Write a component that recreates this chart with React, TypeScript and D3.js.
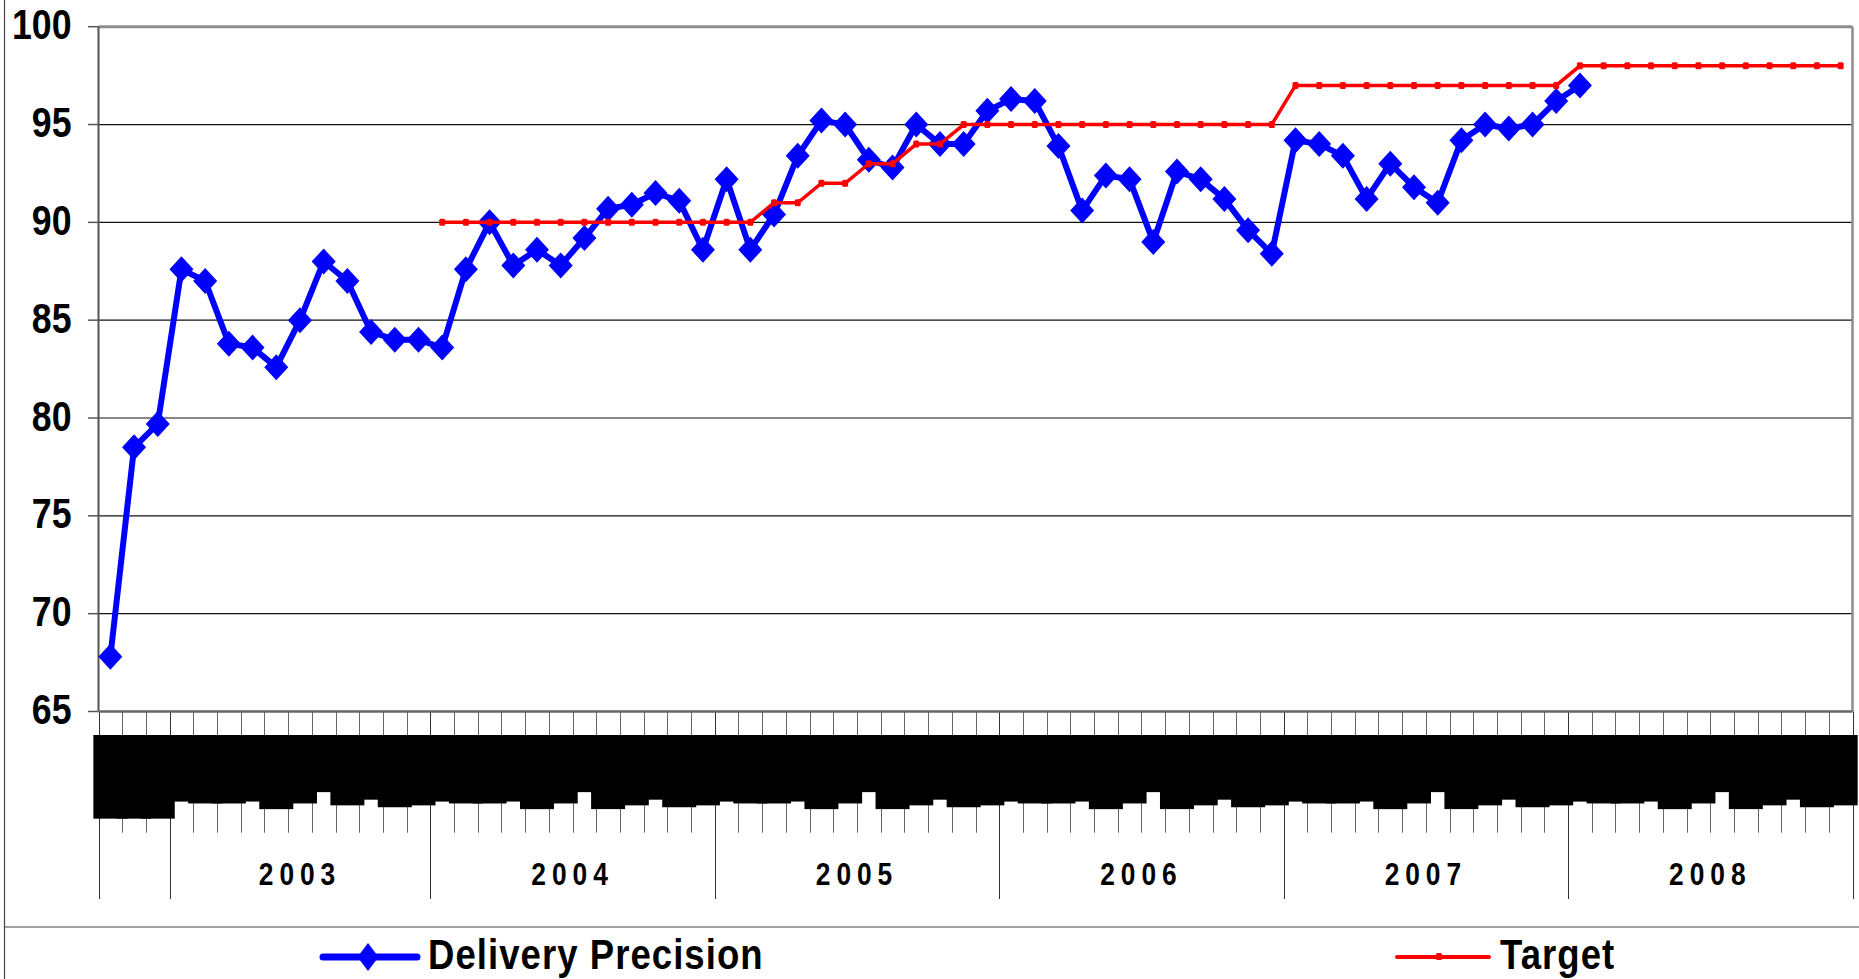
import { useRef, useEffect } from 'react';
import * as d3 from 'd3';

const WIDTH = 1859;
const HEIGHT = 979;
const FONT = "'Liberation Sans', Arial, sans-serif";

// category axis: yearly results first (group has no caption), then months per year
const earlyLabels = ['2000', '2001', '2002'];
const months2003 = ['Jan', 'Feb', 'Mar', 'Apr', 'May', 'Jun', 'Jul', 'Sep', 'Oct', 'Nov', 'Dec'];
const monthLabels = ['Jan', 'Feb', 'Mar', 'Apr', 'May', 'Jun', 'Jul', 'Aug', 'Sep', 'Oct', 'Nov', 'Dec'];
const yearCaptions = ['', '2003', '2004', '2005', '2006', '2007', '2008'];

const deliveryPrecision = [
  67.8, 78.5, 79.7,
  87.6, 87.0, 83.8, 83.6, 82.6, 85.0, 88.0, 87.0, 84.4, 84.0, 84.0,
  83.6, 87.6, 90.0, 87.8, 88.6, 87.8, 89.2, 90.7, 90.9, 91.5, 91.1, 88.6,
  92.2, 88.6, 90.4, 93.4, 95.2, 95.0, 93.2, 92.8, 95.0, 94.0, 94.0, 95.7,
  96.3, 96.2, 93.9, 90.6, 92.4, 92.2, 89.0, 92.6, 92.2, 91.2, 89.6, 88.4,
  94.2, 94.0, 93.4, 91.2, 93.0, 91.8, 91.0, 94.2, 95.0, 94.8, 95.0, 96.2,
  97.0,
];

const target: (number | null)[] = [
  null, null, null,
  null, null, null, null, null, null, null, null, null, null, null,
  90, 90, 90, 90, 90, 90, 90, 90, 90, 90, 90, 90,
  90, 90, 91, 91, 92, 92, 93, 93, 94, 94, 95, 95,
  95, 95, 95, 95, 95, 95, 95, 95, 95, 95, 95, 95,
  97, 97, 97, 97, 97, 97, 97, 97, 97, 97, 97, 97,
  98, 98, 98, 98, 98, 98, 98, 98, 98, 98, 98, 98,
];

const yTicks = [65, 70, 75, 80, 85, 90, 95, 100];

export default function App() {
  const svgRef = useRef<SVGSVGElement>(null);

  function renderChart() {
    const svg = d3.select(svgRef.current);
    svg.selectAll('*').remove();

    const left = 98.5;
    const right = 1852.5;
    const top = 26.7;
    const bottom = 711.5;

    const groups = [earlyLabels, months2003, monthLabels, monthLabels, monthLabels, monthLabels, monthLabels];
    const categories = groups.flatMap((labels, g) => labels.map(label => ({ label, group: g })));

    const x = d3.scaleBand<number>().domain(d3.range(categories.length)).range([left, right]);
    const bw = x.bandwidth();
    const cx = (i: number) => (x(i) as number) + bw / 2;
    const y = d3.scaleLinear().domain([65, 100]).range([bottom, top]);

    svg.append('rect').attr('width', WIDTH).attr('height', HEIGHT).attr('fill', '#fff');

    // outer frame bits
    svg.append('line').attr('x1', 4.5).attr('x2', 4.5).attr('y1', 0).attr('y2', HEIGHT)
      .attr('stroke', '#444').attr('stroke-width', 1.2);
    svg.append('line').attr('x1', 4).attr('x2', WIDTH).attr('y1', 927).attr('y2', 927)
      .attr('stroke', '#444').attr('stroke-width', 1.2);

    // gridlines
    svg.append('g').selectAll('line')
      .data(yTicks.filter(t => t > 65 && t < 100))
      .join('line')
      .attr('x1', left).attr('x2', right)
      .attr('y1', d => y(d)).attr('y2', d => y(d))
      .attr('stroke', '#111').attr('stroke-width', 1.2);

    // plot border top / right
    svg.append('line').attr('x1', left).attr('x2', right).attr('y1', y(100)).attr('y2', y(100))
      .attr('stroke', '#8c8c8c').attr('stroke-width', 3);
    svg.append('line').attr('x1', right).attr('x2', right).attr('y1', y(100)).attr('y2', bottom)
      .attr('stroke', '#8c8c8c').attr('stroke-width', 2.5);

    // y axis
    svg.append('line').attr('x1', left).attr('x2', left).attr('y1', y(100)).attr('y2', bottom)
      .attr('stroke', '#555').attr('stroke-width', 2);
    svg.append('g').selectAll('line')
      .data(yTicks)
      .join('line')
      .attr('x1', 88).attr('x2', left)
      .attr('y1', d => y(d)).attr('y2', d => y(d))
      .attr('stroke', '#555').attr('stroke-width', 1.5);
    svg.append('g').selectAll('text')
      .data(yTicks)
      .join('text')
      .attr('transform', d => `translate(71.5,${y(d) + 12.5}) scale(0.85,1)`)
      .attr('text-anchor', 'end')
      .attr('font-family', FONT)
      .attr('font-weight', 'bold')
      .attr('font-size', 42)
      .attr('fill', '#000')
      .text(d => d);

    // category ticks
    const labelTop = 735;
    const minorEnd = 832.7;
    const groupEnd = 899;
    const groupStarts: number[] = [];
    let acc = 0;
    groups.forEach(g => { groupStarts.push(acc); acc += g.length; });
    groupStarts.push(acc);

    svg.append('g').selectAll('line')
      .data(d3.range(categories.length + 1))
      .join('line')
      .attr('x1', i => Math.round(left + i * bw) + 0.5)
      .attr('x2', i => Math.round(left + i * bw) + 0.5)
      .attr('y1', bottom)
      .attr('y2', i => (groupStarts.includes(i) ? groupEnd : minorEnd))
      .attr('stroke', i => (groupStarts.includes(i) ? '#333' : '#666'))
      .attr('stroke-width', 1);

    // bottom axis line
    svg.append('line').attr('x1', left).attr('x2', right).attr('y1', bottom).attr('y2', bottom)
      .attr('stroke', '#666').attr('stroke-width', 2.5);

    // month labels (rendered as solid boxes, as in the source image)
    const labelSize = 34;
    const pad = 4;
    const labelG = svg.append('g')
      .selectAll('g')
      .data(categories)
      .join('g')
      .attr('transform', (d, i) => `translate(${cx(i)},${labelTop})`);
    const boxes = labelG.append('rect')
      .attr('x', -17).attr('y', 0).attr('width', 34)
      .attr('fill', '#000');
    const texts = labelG.append('text')
      .attr('transform', `translate(${labelSize * 0.35},${pad}) rotate(-90)`)
      .attr('text-anchor', 'end')
      .attr('font-family', FONT)
      .attr('font-weight', 'bold')
      .attr('font-size', labelSize)
      .attr('fill', '#000')
      .text(d => d.label);
    const lengths = texts.nodes().map(n => (n as SVGTextElement).getComputedTextLength());
    boxes.attr('height', (d, i) => lengths[i] + pad * 2);

    // year captions
    svg.append('g').selectAll('text')
      .data(yearCaptions.map((c, g) => ({ c, g })).filter(d => d.c))
      .join('text')
      .attr('transform', d => {
        const mid = left + ((groupStarts[d.g] + groupStarts[d.g + 1]) / 2) * bw;
        return `translate(${mid},885) scale(0.85,1)`;
      })
      .attr('text-anchor', 'middle')
      .attr('font-family', FONT)
      .attr('font-weight', 'bold')
      .attr('font-size', 31)
      .attr('letter-spacing', 7)
      .attr('fill', '#000')
      .text(d => d.c);

    // Delivery Precision series
    const diamond = 'M0,-13L12,0L0,13L-12,0Z';
    const blueLine = d3.line<number>().x((d, i) => cx(i)).y(d => y(d));
    svg.append('path')
      .attr('d', blueLine(deliveryPrecision))
      .attr('fill', 'none')
      .attr('stroke', '#0000ff')
      .attr('stroke-width', 6)
      .attr('stroke-linejoin', 'round');
    svg.append('g').selectAll('path')
      .data(deliveryPrecision)
      .join('path')
      .attr('transform', (d, i) => `translate(${cx(i)},${y(d)})`)
      .attr('d', diamond)
      .attr('fill', '#0000ff');

    // Target series
    const redLine = d3.line<number | null>()
      .defined(d => d != null)
      .x((d, i) => cx(i))
      .y(d => y(d as number));
    svg.append('path')
      .attr('d', redLine(target))
      .attr('fill', 'none')
      .attr('stroke', '#ff0000')
      .attr('stroke-width', 3.5);
    svg.append('g').selectAll('rect')
      .data(target.map((v, i) => ({ v, i })).filter(d => d.v != null))
      .join('rect')
      .attr('x', d => cx(d.i) - 3)
      .attr('y', d => y(d.v as number) - 3.5)
      .attr('width', 6).attr('height', 7).attr('rx', 1.5)
      .attr('fill', '#ff0000');

    // legend
    const ly = 957;
    svg.append('line').attr('x1', 323).attr('x2', 417).attr('y1', ly).attr('y2', ly)
      .attr('stroke', '#0000ff').attr('stroke-width', 7).attr('stroke-linecap', 'round');
    svg.append('path').attr('transform', `translate(368,${ly})`).attr('d', 'M0,-14L10.5,0L0,14L-10.5,0Z')
      .attr('fill', '#0000ff');
    svg.append('line').attr('x1', 1397).attr('x2', 1489).attr('y1', ly).attr('y2', ly)
      .attr('stroke', '#ff0000').attr('stroke-width', 4).attr('stroke-linecap', 'round');
    svg.append('rect').attr('x', 1436).attr('y', ly - 4).attr('width', 6).attr('height', 7).attr('rx', 1.5)
      .attr('fill', '#ff0000');

    const legendText = [
      { t: 'Delivery Precision', x: 428 },
      { t: 'Target', x: 1500 },
    ];
    svg.append('g').selectAll('text')
      .data(legendText)
      .join('text')
      .attr('transform', d => `translate(${d.x},969) scale(0.87,1)`)
      .attr('font-family', FONT)
      .attr('font-weight', 'bold')
      .attr('font-size', 42)
      .attr('letter-spacing', 1.2)
      .attr('fill', '#000')
      .text(d => d.t);
  }

  useEffect(() => {
    renderChart();
    // eslint-disable-next-line react-hooks/exhaustive-deps
  }, []);

  return (
    <svg
      ref={svgRef}
      width={WIDTH}
      height={HEIGHT}
      style={{ position: 'absolute', left: 0, top: 0, display: 'block' }}
    />
  );
}
